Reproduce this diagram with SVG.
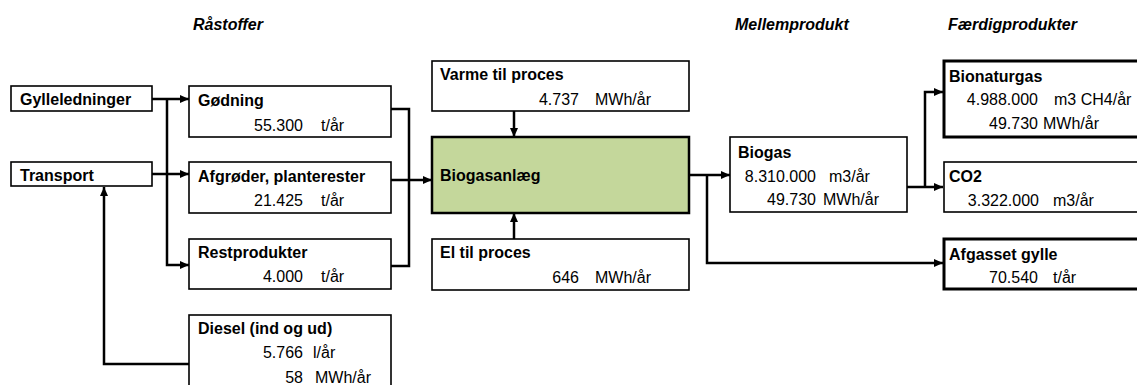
<svg xmlns="http://www.w3.org/2000/svg" width="1137" height="385" viewBox="0 0 1137 385">
<style>
.box{fill:#fff;stroke:#000;stroke-width:1.6}
.thick{fill:#fff;stroke:#000;stroke-width:3}
.green{fill:#c4d79b;stroke:#000;stroke-width:2.5}
.b{font-family:"Liberation Sans",Arial,sans-serif;font-size:16px;font-weight:bold;fill:#000}
.r{font-family:"Liberation Sans",Arial,sans-serif;font-size:16px;fill:#000}
.e{text-anchor:end}
.h{font-family:"Liberation Sans",Arial,sans-serif;font-size:16px;font-weight:bold;font-style:italic;fill:#000}
.c{fill:none;stroke:#000;stroke-width:2.5}
</style>
<defs>
<marker id="ar" markerUnits="userSpaceOnUse" markerWidth="10" markerHeight="10" refX="9" refY="4" orient="auto">
<path d="M0,0 L9,4 L0,8 z" fill="#000"/>
</marker>
</defs>
<g id="headers">
<text class="h" x="193" y="30">Råstoffer</text>
<text class="h" x="735" y="30">Mellemprodukt</text>
<text class="h" x="948" y="30">Færdigprodukter</text>
</g>
<g id="connectors">
<path class="c" d="M152,99 H189" marker-end="url(#ar)"/>
<path class="c" d="M167,99 V265 H189" marker-end="url(#ar)"/>
<path class="c" d="M152,174 H189" marker-end="url(#ar)"/>
<path class="c" d="M391,109 H409 V266 H391"/>
<path class="c" d="M391,180 H432" marker-end="url(#ar)"/>
<path class="c" d="M514,111 V137" marker-end="url(#ar)"/>
<path class="c" d="M514,239 V213" marker-end="url(#ar)"/>
<path class="c" d="M689,175 H730" marker-end="url(#ar)"/>
<path class="c" d="M707,175 V263 H943" marker-end="url(#ar)"/>
<path class="c" d="M907,187 H943" marker-end="url(#ar)"/>
<path class="c" d="M925,187 V92 H943" marker-end="url(#ar)"/>
<path class="c" d="M191,364 H104 V187" marker-end="url(#ar)"/>
</g>
<g id="gylleledninger">
<rect class="box" x="11" y="86" width="141" height="25"/>
<text class="b" x="20" y="105">Gylleledninger</text>
</g>
<g id="transport">
<rect class="box" x="11" y="162" width="141" height="24"/>
<text class="b" x="20" y="181">Transport</text>
</g>
<g id="godning">
<rect class="box" x="189" y="86" width="202" height="51"/>
<text class="b" x="198" y="106">Gødning</text>
<text class="r e" x="303" y="131">55.300</text>
<text class="r" x="321" y="131">t/år</text>
</g>
<g id="afgroder">
<rect class="box" x="189" y="162" width="202" height="51"/>
<text class="b" x="198" y="182">Afgrøder, planterester</text>
<text class="r e" x="303" y="206">21.425</text>
<text class="r" x="321" y="206">t/år</text>
</g>
<g id="restprodukter">
<rect class="box" x="189" y="239" width="202" height="50"/>
<text class="b" x="198" y="258">Restprodukter</text>
<text class="r e" x="303" y="282">4.000</text>
<text class="r" x="321" y="282">t/år</text>
</g>
<g id="diesel">
<rect class="box" x="189" y="315" width="202" height="80"/>
<text class="b" x="198" y="334">Diesel (ind og ud)</text>
<text class="r e" x="303" y="358">5.766</text>
<text class="r" x="313" y="358">l/år</text>
<text class="r e" x="303" y="383">58</text>
<text class="r" x="315" y="383">MWh/år</text>
</g>
<g id="varme">
<rect class="box" x="432" y="61" width="257" height="50"/>
<text class="b" x="440" y="80">Varme til proces</text>
<text class="r e" x="579" y="105">4.737</text>
<text class="r" x="595" y="105">MWh/år</text>
</g>
<g id="biogasanlaeg">
<rect class="green" x="432" y="137" width="257" height="76"/>
<text class="b" x="440" y="181">Biogasanlæg</text>
</g>
<g id="el">
<rect class="box" x="432" y="239" width="257" height="51"/>
<text class="b" x="440" y="258">El til proces</text>
<text class="r e" x="579" y="283">646</text>
<text class="r" x="595" y="283">MWh/år</text>
</g>
<g id="biogas">
<rect class="box" x="730" y="137" width="177" height="75"/>
<text class="b" x="738" y="158">Biogas</text>
<text class="r e" x="816" y="182">8.310.000</text>
<text class="r" x="829" y="182">m3/år</text>
<text class="r e" x="816" y="205">49.730</text>
<text class="r" x="823" y="205">MWh/år</text>
</g>
<g id="bionaturgas">
<rect class="thick" x="944" y="61" width="200" height="76"/>
<text class="b" x="949" y="82">Bionaturgas</text>
<text class="r e" x="1038" y="105">4.988.000</text>
<text class="r" x="1054" y="105">m3 CH4/år</text>
<text class="r e" x="1038" y="129">49.730</text>
<text class="r" x="1043" y="129">MWh/år</text>
</g>
<g id="co2">
<rect class="box" x="944" y="162" width="200" height="50"/>
<text class="b" x="949" y="182">CO2</text>
<text class="r e" x="1039" y="206">3.322.000</text>
<text class="r" x="1053" y="206">m3/år</text>
</g>
<g id="afgasset">
<rect class="thick" x="944" y="239" width="200" height="50"/>
<text class="b" x="949" y="260">Afgasset gylle</text>
<text class="r e" x="1038" y="283">70.540</text>
<text class="r" x="1053" y="283">t/år</text>
</g>
</svg>
